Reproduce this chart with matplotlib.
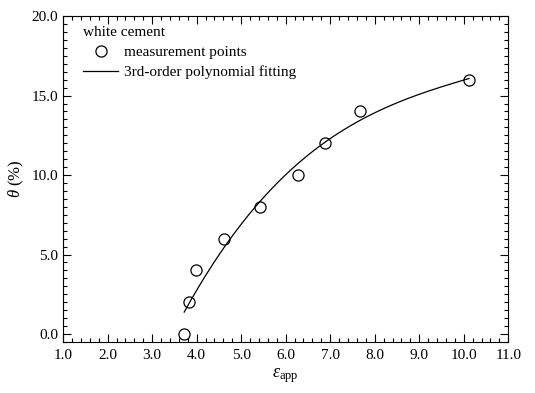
import numpy as np
import matplotlib
matplotlib.use('Agg')
import matplotlib.pyplot as plt
from matplotlib.ticker import MultipleLocator, FormatStrFormatter

plt.rcParams['font.family'] = 'Liberation Serif'
plt.rcParams['mathtext.fontset'] = 'custom'
plt.rcParams['mathtext.rm'] = 'Liberation Serif'
plt.rcParams['mathtext.it'] = 'Liberation Serif:italic'

# measured points
eps_app = [3.72, 3.82, 3.98, 4.62, 5.42, 6.28, 6.88, 7.66, 10.12]
theta = [0, 2, 4, 6, 8, 10, 12, 14, 16]

# 3rd-order polynomial fitting
coef = np.polyfit(eps_app, theta, 3)
x_fit = np.linspace(min(eps_app), max(eps_app), 200)
y_fit = np.polyval(coef, x_fit)

fig = plt.figure(figsize=(5.35, 3.93), dpi=100)
ax = fig.add_axes([0.118, 0.130, 0.832, 0.829])

ax.plot(eps_app, theta, 'o', mfc='none', mec='black', ms=8, mew=0.9,
        linestyle='None', label='measurement points')
ax.plot(x_fit, y_fit, color='black', lw=0.9, label='3rd-order polynomial fitting')

ax.set_xlim(1.0, 11.0)
ax.set_ylim(-0.5, 20.0)
ax.xaxis.set_major_locator(MultipleLocator(1.0))
ax.xaxis.set_minor_locator(MultipleLocator(0.2))
ax.yaxis.set_major_locator(MultipleLocator(5.0))
ax.yaxis.set_minor_locator(MultipleLocator(0.5))
ax.xaxis.set_major_formatter(FormatStrFormatter('%.1f'))
ax.yaxis.set_major_formatter(FormatStrFormatter('%.1f'))
ax.tick_params(which='both', direction='in', top=True, right=True, labelsize=11)
ax.tick_params(which='major', length=6, width=0.8)
ax.tick_params(which='minor', length=3, width=0.8)
ax.tick_params(axis='x', which='major', pad=5)

ax.set_xlabel(r'$\varepsilon_{\mathrm{app}}$', fontsize=13, labelpad=3)
ax.set_ylabel(r'$\theta$ (%)', fontsize=12)

leg = ax.legend(title='white cement', loc='upper left', frameon=False,
                fontsize=11, title_fontsize=11, handlelength=2.3,
                handletextpad=0.35, borderaxespad=0,
                bbox_to_anchor=(0.031, 0.988), labelspacing=0.42)
leg._legend_box.align = 'left'

fig.savefig('out.png', dpi=100)
